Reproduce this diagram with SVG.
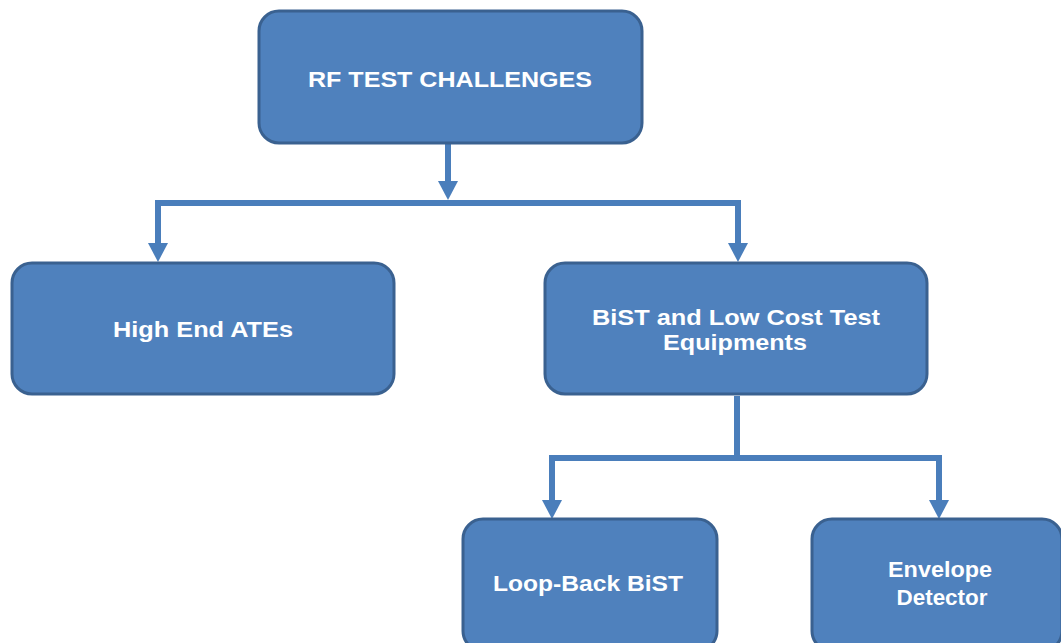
<svg xmlns="http://www.w3.org/2000/svg" width="1061" height="643" viewBox="0 0 1061 643">
  <style>
    .box { fill: #4F81BD; stroke: #3A6190; stroke-width: 3; }
    .lbl { fill: #FFFFFF; font-family: "Liberation Sans", Arial, sans-serif; font-weight: bold; font-size: 22px; text-anchor: middle; }
    .wire { fill: none; stroke: #4A7EBB; stroke-width: 6; stroke-linejoin: miter; }
  </style>
  <defs>
    <marker id="head" markerUnits="userSpaceOnUse" markerWidth="20" markerHeight="20" refX="0" refY="10" orient="auto-start-reverse" overflow="visible">
      <path d="M0,0 L19,10 L0,20 z" fill="#4A7EBB"/>
    </marker>
  </defs>
  <rect width="1061" height="643" fill="#FFFFFF"/>

  <!-- connectors -->
  <g id="connectors">
    <path class="wire" d="M448,144 V181" marker-end="url(#head)"/>
    <path class="wire" d="M158,243 V203 H738 V243" marker-start="url(#head)" marker-end="url(#head)"/>
    <path class="wire" d="M737,396 V458"/>
    <path class="wire" d="M552,500 V458 H939 V500" marker-start="url(#head)" marker-end="url(#head)"/>
  </g>

  <!-- nodes -->
  <g id="node-rf-test-challenges">
    <rect class="box" x="259" y="11" width="383" height="132" rx="20" ry="20"/>
    <text class="lbl" x="450" y="87" font-size="25" textLength="284" lengthAdjust="spacingAndGlyphs">RF TEST CHALLENGES</text>
  </g>

  <g id="node-high-end-ates">
    <rect class="box" x="12" y="263" width="382" height="131" rx="20" ry="20"/>
    <text class="lbl" x="203" y="337" textLength="180" lengthAdjust="spacingAndGlyphs">High End ATEs</text>
  </g>

  <g id="node-bist-low-cost">
    <rect class="box" x="545" y="263" width="382" height="131" rx="20" ry="20"/>
    <text class="lbl" x="736" y="325" textLength="288" lengthAdjust="spacingAndGlyphs">BiST and Low Cost Test</text>
    <text class="lbl" x="735" y="350" textLength="144" lengthAdjust="spacingAndGlyphs">Equipments</text>
  </g>

  <g id="node-loop-back-bist">
    <rect class="box" x="463" y="519" width="254" height="132" rx="20" ry="20"/>
    <text class="lbl" x="588" y="591" textLength="190" lengthAdjust="spacingAndGlyphs">Loop-Back BiST</text>
  </g>

  <g id="node-envelope-detector">
    <rect class="box" x="812" y="519" width="250" height="132" rx="20" ry="20"/>
    <text class="lbl" x="940" y="577" textLength="104" lengthAdjust="spacingAndGlyphs">Envelope</text>
    <text class="lbl" x="942" y="605" textLength="91" lengthAdjust="spacingAndGlyphs">Detector</text>
  </g>
</svg>
